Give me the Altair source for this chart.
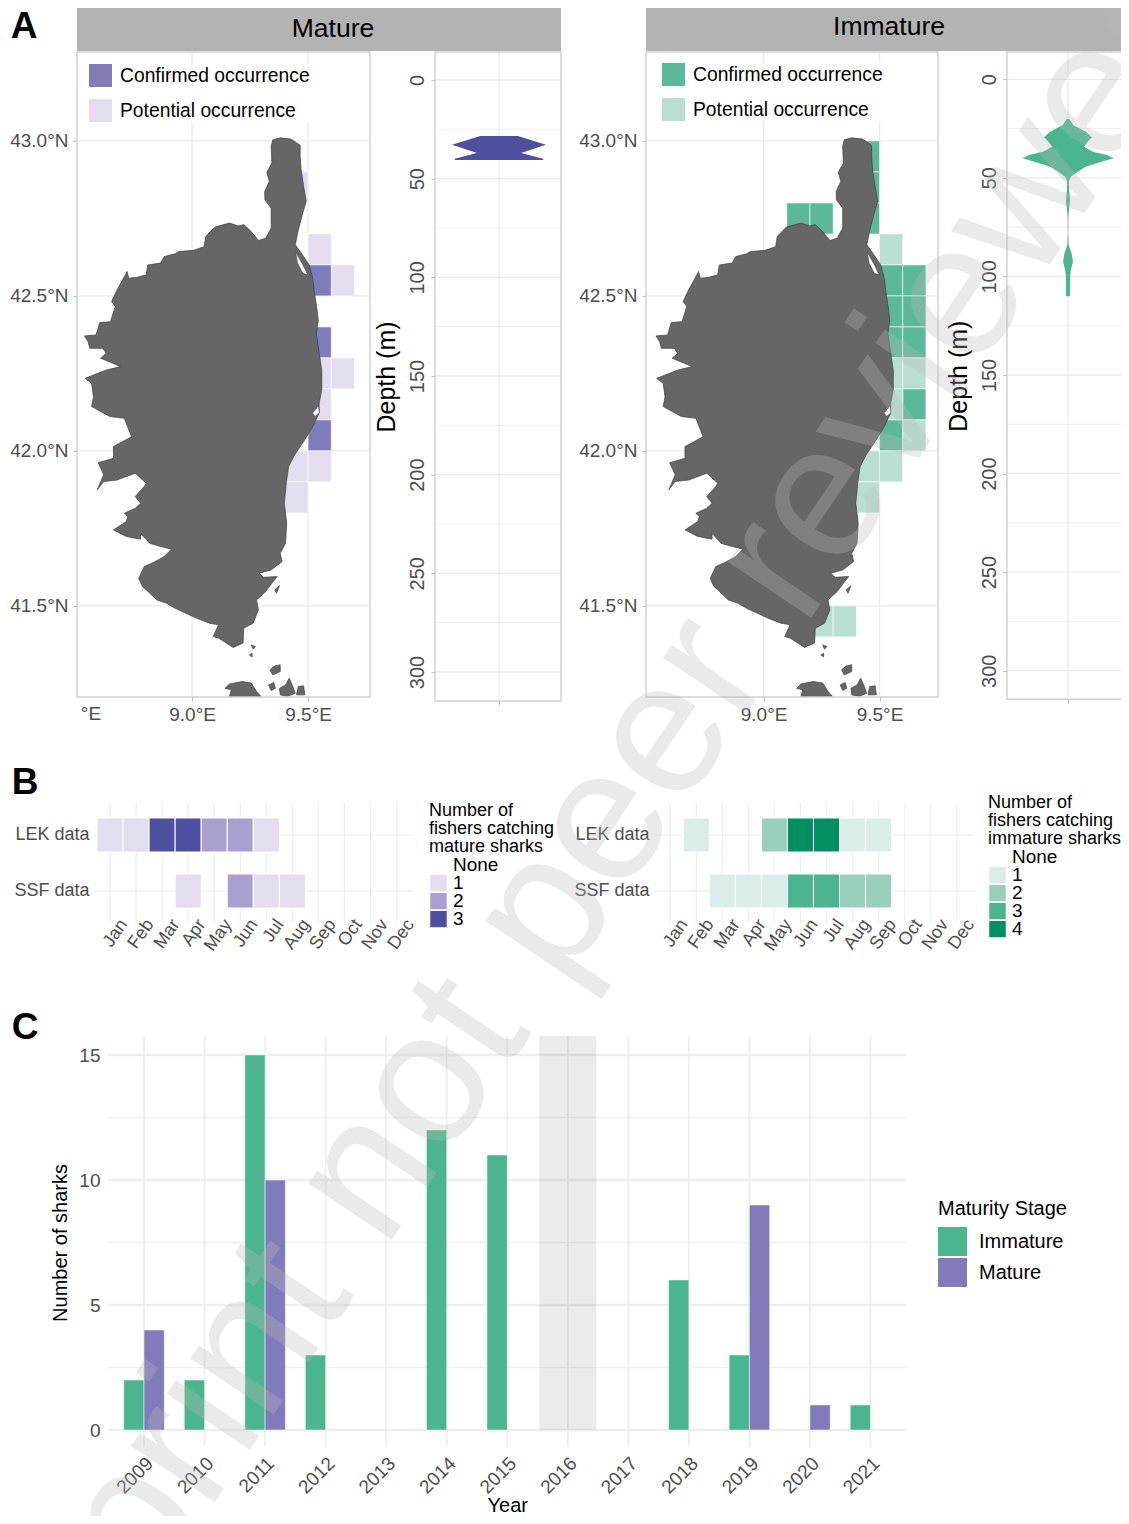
import altair as alt
import pandas as pd

FONT = "Liberation Sans"
W, H = 1113, 1508

# ---------- island outlines (lon, lat) ----------
corsica = [(9.348,43.004),(9.380,43.010),(9.427,43.006),(9.466,42.986),(9.466,42.950),(9.470,42.907),(9.481,42.853),(9.492,42.805),
 (9.477,42.767),(9.458,42.713),(9.445,42.665),(9.472,42.637),(9.505,42.600),(9.520,42.557),(9.528,42.509),(9.539,42.455),(9.544,42.422),
 (9.536,42.379),(9.548,42.315),(9.559,42.261),(9.559,42.197),(9.548,42.154),(9.548,42.122),(9.520,42.078),(9.481,42.030),(9.442,41.987),
 (9.416,41.949),(9.406,41.896),(9.398,41.831),(9.408,41.767),(9.403,41.702),(9.380,41.670),(9.388,41.643),(9.341,41.616),(9.289,41.605),
 (9.309,41.592),(9.367,41.595),(9.317,41.546),(9.278,41.519),(9.286,41.487),(9.263,41.444),(9.223,41.428),(9.220,41.380),(9.177,41.366),
 (9.114,41.396),(9.091,41.401),(9.114,41.439),(9.075,41.444),(9.020,41.460),(8.927,41.492),(8.888,41.509),(8.848,41.519),(8.802,41.552),
 (8.786,41.562),(8.770,41.589),(8.794,41.627),(8.833,41.640),(8.880,41.659),(8.911,41.683),(8.848,41.695),(8.817,41.702),(8.778,41.734),
 (8.778,41.715),(8.716,41.724),(8.661,41.745),(8.716,41.772),(8.723,41.788),(8.708,41.799),(8.755,41.815),(8.778,41.831),(8.755,41.853),
 (8.794,41.885),(8.802,41.896),(8.755,41.928),(8.677,41.906),(8.619,41.901),(8.591,41.874),(8.619,41.923),(8.595,41.962),(8.661,41.976),
 (8.661,42.014),(8.739,42.046),(8.708,42.105),(8.645,42.111),(8.567,42.143),(8.575,42.175),(8.567,42.218),(8.539,42.234),(8.630,42.261),
 (8.692,42.272),(8.606,42.299),(8.630,42.315),(8.614,42.331),(8.559,42.331),(8.552,42.352),(8.536,42.371),(8.586,42.374),(8.602,42.414),
 (8.648,42.417),(8.669,42.466),(8.653,42.482),(8.673,42.514),(8.720,42.579),(8.727,42.557),(8.763,42.560),(8.802,42.568),(8.809,42.600),
 (8.864,42.606),(8.880,42.627),(8.927,42.636),(8.942,42.643),(9.005,42.647),(9.052,42.659),(9.059,42.692),(9.098,42.722),(9.161,42.735),
 (9.200,42.726),(9.223,42.730),(9.255,42.708),(9.286,42.679),(9.317,42.686),(9.341,42.719),(9.341,42.783),(9.314,42.810),(9.313,42.837),
 (9.333,42.870),(9.322,42.899),(9.344,42.929),(9.341,42.983)]
corsica_lon = [p[0] for p in corsica]
corsica_lat = [p[1] for p in corsica]
islets = {
 "a": ([9.161,9.169,9.142,9.161,9.216,9.255,9.278,9.297],[41.207,41.229,41.234,41.248,41.256,41.251,41.224,41.208]),
 "b": ([9.380,9.377,9.403,9.419,9.434,9.445,9.411],[41.213,41.234,41.245,41.267,41.240,41.218,41.208]),
 "c": ([9.450,9.458,9.481,9.486],[41.213,41.240,41.242,41.213]),
 "d": ([9.336,9.356,9.380,9.380,9.348],[41.294,41.306,41.310,41.288,41.277]),
 "e": ([9.330,9.352,9.359,9.341],[41.245,41.253,41.234,41.227]),
 "f": ([9.255,9.273,9.263],[41.374,41.369,41.360]),
 "g": ([9.247,9.259,9.259],[41.342,41.347,41.335]),
 "h": ([9.356,9.377,9.364],[41.552,41.565,41.541]),
}
lagoon_lon = [9.447,9.474,9.498,9.478,9.456]
lagoon_lat = [42.640,42.605,42.568,42.573,42.605]
lagoon2_lon = [9.520,9.545,9.548,9.530]
lagoon2_lat = [42.122,42.145,42.122,42.112]

# ---------- occurrence tiles (lower-left corner) ----------
C, P = "Confirmed occurrence", "Potential occurrence"
mature_lon = [9.4,9.5,9.6,9.5,9.5,9.5,9.6,9.5,9.5,9.4,9.5,9.4]
mature_lat = [42.8,42.6,42.5,42.5,42.3,42.2,42.2,42.1,42.0,41.9,41.9,41.8]
mature_kind = [P,P,P,C,C,P,P,P,C,P,P,P]
immature_lon = [9.4,9.4,9.4,9.1,9.2,9.5,9.5,9.6,9.5,9.6,9.5,9.6,9.5,9.6,9.6,9.5,9.5,9.6,9.4,9.5,9.4,9.2,9.3]
immature_lat = [42.9,42.8,42.7,42.7,42.7,42.6,42.5,42.5,42.4,42.4,42.3,42.3,42.2,42.2,42.1,42.1,42.0,42.0,41.9,41.9,41.8,41.4,41.4]
immature_kind = [C,C,C,C,C,P,C,C,C,C,C,C,P,P,C,P,C,P,P,P,P,P,P]

# ---------- depth violins ----------
mature_depth = [28.4,32.8,37.0,39.9,40.5]
mature_dens = [0.40,1.0,0.47,0.94,0.94]
immature_depth = [20.1,23.2,26.6,29.4,31.6,34.2,36.7,38.4,40.1,42.1,44.3,46.9,49.4,51.9,56.2,61.3,65.5,69.7,78.2,84.1,88.3,92.6,96.8,100.2,110]
immature_dens = [0.03,0.11,0.38,0.51,0.42,0.34,0.53,0.83,0.97,0.68,0.38,0.21,0.06,0.02,0.023,0.045,0.023,0.008,0.004,0.015,0.076,0.106,0.06,0.045,0.045]

# ---------- fishers by month ----------
months = ["Jan","Feb","Mar","Apr","May","Jun","Jul","Aug","Sep","Oct","Nov","Dec"]
rows = ["LEK data","SSF data"]
fm_row = ["LEK data"]*7 + ["SSF data"]*4
fm_month = ["Jan","Feb","Mar","Apr","May","Jun","Jul","Apr","Jun","Jul","Aug"]
fm_n = ["1","1","3","3","2","2","1","1","2","1","1"]
fi_row = ["LEK data"]*6 + ["SSF data"]*7
fi_month = ["Feb","May","Jun","Jul","Aug","Sep","Mar","Apr","May","Jun","Jul","Aug","Sep"]
fi_n = ["1","2","4","4","1","1","1","1","1","3","3","2","2"]

# ---------- sharks per year ----------
years = list(range(2009, 2022))
imm_year = [2009,2010,2011,2012,2014,2015,2018,2019,2021]
imm_n = [2,2,15,3,12,11,6,3,1]
mat_year = [2009,2011,2019,2020]
mat_n = [4,10,9,1]

# ---------- colours ----------
PURPLE_DARK, PURPLE, PURPLE_MID, PURPLE_LIGHT = "#4f4f9f", "#827bba", "#a9a0cf", "#e2deef"
GREEN_DARK, GREEN, GREEN_MID, GREEN_LIGHT = "#008f60", "#4ab58e", "#98d0bc", "#daede8"
GRID, BORDER = "#ebebeb", "#cfcfcf"
DX, DY = 8, 8


def sc(dom, rng, **kw):
    return alt.Scale(domain=dom, range=[r - DY for r in rng], nice=False, zero=False, **kw)


def band(dom, rng, **kw):
    return alt.Scale(domain=dom, range=[r - DY for r in rng], **kw)


def bottom(y, **kw):
    return alt.Axis(orient="bottom", offset=y - DY - H, grid=False, **kw)


def left(x, **kw):
    return alt.Axis(orient="left", offset=-(x - DX), grid=False, **kw)


def vrules(vals, xs, y0, y1, color=GRID, w=1.3, axis=None, typ="Q"):
    return alt.Chart(pd.DataFrame({"v": vals})).mark_rule(color=color, strokeWidth=w).encode(
        x=alt.X(f"v:{typ}", scale=xs, axis=axis, title=None),
        y=alt.value(y0 - DY), y2=alt.value(y1 - DY))


def hrules(vals, ys, x0, x1, color=GRID, w=1.3, axis=None, title=None, typ="Q"):
    return alt.Chart(pd.DataFrame({"v": vals})).mark_rule(color=color, strokeWidth=w).encode(
        y=alt.Y(f"v:{typ}", scale=ys, axis=axis, title=title),
        x=alt.value(x0 - DX), x2=alt.value(x1 - DX))


def box(x0, x1, y0, y1, fill=None, stroke=None, sw=1.4):
    kw = {"fill": fill} if fill else {"fillOpacity": 0}
    if stroke:
        kw.update(stroke=stroke, strokeWidth=sw)
    return alt.Chart(pd.DataFrame({"a": [0]})).mark_rect(**kw).encode(
        x=alt.value(x0 - DX), x2=alt.value(x1 - DX), y=alt.value(y0 - DY), y2=alt.value(y1 - DY))


def label(t, x, y, size, color="black", weight="normal", align="center"):
    return alt.Chart(pd.DataFrame({"t": [t]})).mark_text(
        fontSize=size, color=color, fontWeight=weight, align=align, baseline="middle", font=FONT
    ).encode(text="t:N", x=alt.value(x - DX), y=alt.value(y - DY))


land_rows = [{"poly": "main", "i": i, "lon": a, "lat": b} for i, (a, b) in enumerate(zip(corsica_lon, corsica_lat))]
for name, (lo, la) in islets.items():
    land_rows += [{"poly": name, "i": i, "lon": a, "lat": b} for i, (a, b) in enumerate(zip(lo, la))]
land = pd.DataFrame(land_rows)
lagoons = pd.DataFrame(
    [{"poly": "b", "i": i, "lon": a, "lat": b} for i, (a, b) in enumerate(zip(lagoon_lon, lagoon_lat))]
    + [{"poly": "d", "i": i, "lon": a, "lat": b} for i, (a, b) in enumerate(zip(lagoon2_lon, lagoon2_lat))])


def xsc(dom, rng):
    return alt.Scale(domain=dom, range=[r - DX for r in rng], nice=False, zero=False)


def map_panel(x0, x1, lon0, lon1, lo, la, kind, colors, legx, legy):
    xs = xsc([lon0, lon1], [x0, x1])
    ys = sc([41.206, 43.287], [697, 52])
    tiles = pd.DataFrame({"lon": lo, "lat": la, "kind": kind})
    tiles["lon2"] = tiles["lon"] + 0.1
    tiles["lat2"] = tiles["lat"] + 0.1
    out = [
        vrules([9.0, 9.5], xs, 52, 697, axis=bottom(697, values=[9.0, 9.5], labelExpr="format(datum.value,'.1f')+'°E'",
               labelFontSize=19, labelPadding=4, tickSize=4, domain=False)),
        hrules([41.5, 42.0, 42.5, 43.0], ys, x0, x1,
               axis=left(x0, values=[41.5, 42.0, 42.5, 43.0], labelExpr="format(datum.value,'.1f')+'°N'",
                         labelFontSize=19, labelPadding=5, tickSize=4, domain=False)),
        alt.Chart(tiles).mark_rect(stroke="white", strokeWidth=0.6).encode(
            x=alt.X("lon:Q", scale=xs, axis=None), x2="lon2:Q",
            y=alt.Y("lat:Q", scale=ys, axis=None), y2="lat2:Q",
            color=alt.Color("kind:N", scale=alt.Scale(domain=[C, P], range=colors),
                            legend=alt.Legend(orient="none", legendX=legx - DX, legendY=legy - DY, title=None,
                                              symbolType="square", symbolSize=529, clipHeight=23, rowPadding=12,
                                              labelFontSize=19.3, labelOffset=8, labelColor="black",
                                              fillColor="white", symbolStrokeWidth=0, padding=0, labelLimit=300))),
        alt.Chart(land).mark_line(interpolate="linear-closed", fill="#666666", stroke="#404040", strokeWidth=0.7).encode(
            x=alt.X("lon:Q", scale=xs, axis=None), y=alt.Y("lat:Q", scale=ys, axis=None),
            detail="poly:N", order="i:Q"),
        alt.Chart(lagoons).mark_line(interpolate="linear-closed", fill="white", stroke="#404040", strokeWidth=0.4).encode(
            x=alt.X("lon:Q", scale=xs, axis=None), y=alt.Y("lat:Q", scale=ys, axis=None),
            detail="poly:N", order="i:Q"),
        box(x0, x1, 52, 697, stroke=BORDER),
    ]
    return out


def violin_panel(x0, x1, xc, y_0, y_300, bottom_y, depth, dens, color, unit=47):
    xs = xsc([(x0 - xc) / unit, (x1 - xc) / unit], [x0, x1])
    k = (y_300 - y_0) / 300
    ys = sc([(52 - y_0) / k, (bottom_y - y_0) / k], [52, bottom_y])
    df = pd.DataFrame({"d": depth, "w": dens})
    df["neg"] = -df["w"]
    ticks = [0, 50, 100, 150, 200, 250, 300]
    return [
        hrules([25, 75, 125, 175, 225, 275], ys, x0, x1, w=0.8),
        hrules(ticks, ys, x0, x1, axis=left(x0, values=ticks, labelAngle=-90, labelAlign="center", labelBaseline="bottom",
                                             labelFontSize=20, labelPadding=4, tickSize=4, domain=False, titleFontSize=25,
                                             titlePadding=8), title="Depth (m)"),
        vrules([0], xs, 52, bottom_y, axis=bottom(bottom_y, values=[0], labels=False, tickSize=4, domain=False)),
        alt.Chart(df).mark_area(orient="horizontal", color=color, opacity=1).encode(
            y=alt.Y("d:Q", scale=ys, axis=None), x=alt.X("neg:Q", scale=xs, axis=None), x2="w:Q"),
        box(x0, x1, 52, bottom_y, stroke=BORDER),
    ]


def heat_panel(jan_x, x0, x1, rw, mo, n, dom, colors, legx, legy, legend_title):
    step = 26.05
    xs = alt.Scale(domain=months, range=[jan_x - step / 2 - DX, jan_x + 11.5 * step - DX], paddingInner=0, paddingOuter=0)
    ys = band(rows, [807, 919], paddingInner=0.393, paddingOuter=0.196)
    df = pd.DataFrame({"row": rw, "month": mo, "n": n})
    return [
        vrules(months, xs, 802, 923, color="#f0f0f0", typ="N",
               axis=bottom(918, labelAngle=-55, labelAlign="right", labelBaseline="middle", labelFontSize=18,
                           labelPadding=3, labelOffset=14, ticks=False, domain=False, labelOverlap=False)),
        hrules(rows, ys, x0, x1, color="#f0f0f0", typ="N",
               axis=left(x0, labelFontSize=18, labelPadding=6, ticks=False, domain=False)),
        alt.Chart(df).mark_rect(stroke="white", strokeWidth=1).encode(
            x=alt.X("month:N", scale=xs, axis=None), y=alt.Y("row:N", scale=ys, axis=None),
            color=alt.Color("n:N", scale=alt.Scale(domain=dom, range=colors),
                            legend=alt.Legend(orient="none", legendX=legx - DX, legendY=legy - DY, title=legend_title,
                                              titleFontSize=18, titleLineHeight=18, titleFontWeight="normal",
                                              titleColor="black", titlePadding=1, titleLimit=200,
                                              symbolType="square", symbolSize=272, clipHeight=16, rowPadding=-3,
                                              labelFontSize=19, labelOffset=5, labelColor="black",
                                              symbolStrokeWidth=0, padding=0))),
    ]


# --- panel C ---
bars = pd.DataFrame({"year": imm_year + mat_year, "n": imm_n + mat_n,
                     "stage": ["Immature"] * len(imm_year) + ["Mature"] * len(mat_year)})
c_x = alt.Scale(domain=years, range=[113.75 - DX, 900.75 - DX], paddingInner=0.33, paddingOuter=0.165)
c_xq = xsc([2009, 2021], [144, 870.5])
c_y = sc([0, 15], [1430, 1055])
panel_c = [
    hrules([2.5, 7.5, 12.5], c_y, 108, 906, color="#f0f0f0", w=1.5),
    vrules(years, c_x, 1036, 1447, color="#eeeeee", w=1.8, typ="O",
           axis=bottom(1447, labelAngle=-45, labelAlign="right", labelBaseline="middle", labelFontSize=19, labelPadding=13,
                       labelOffset=6, ticks=False, domain=False, title="Year", titleFontSize=20, titlePadding=-1,
                       labelOverlap=False)),
    hrules([0, 5, 10, 15], c_y, 108, 906, color="#eeeeee", w=2.5, title="Number of sharks",
           axis=left(108, values=[0, 5, 10, 15], labelFontSize=19, labelPadding=8, ticks=False, domain=False,
                     titleFontSize=20, titlePadding=8)),
    alt.Chart(pd.DataFrame({"a": [2015.53], "b": [2016.47]})).mark_rect(color="#000000", opacity=0.08).encode(
        x=alt.X("a:Q", scale=c_xq, axis=None), x2="b:Q", y=alt.value(1036 - DY), y2=alt.value(1430 - DY)),
    alt.Chart(bars).mark_bar(stroke="white", strokeWidth=0.5).encode(
        x=alt.X("year:O", scale=c_x, axis=None),
        xOffset=alt.XOffset("stage:N", scale=alt.Scale(domain=["Immature", "Mature"], paddingInner=0, paddingOuter=0)),
        y=alt.Y("n:Q", scale=c_y, axis=None),
        color=alt.Color("stage:N", scale=alt.Scale(domain=["Immature", "Mature"], range=[GREEN, PURPLE]),
                        legend=alt.Legend(orient="none", legendX=938 - DX, legendY=1199 - DY, title="Maturity Stage",
                                          titleFontSize=20, titleFontWeight="normal", titleColor="black", titlePadding=8,
                                          symbolType="square", symbolSize=841, clipHeight=29, rowPadding=2,
                                          labelFontSize=20, labelOffset=12, labelColor="black",
                                          symbolStrokeWidth=0, padding=0))),
]

layers = []
layers += map_panel(77, 370, 8.504, 9.767, mature_lon, mature_lat, mature_kind, [PURPLE, PURPLE_LIGHT], 89, 64)
layers += map_panel(646, 938, 8.493, 9.752, immature_lon, immature_lat, immature_kind, ["#5bb99a", "#b8dfd2"], 662, 63)
layers += [box(77, 561, 8, 51, fill="#b3b3b3"), box(646, 1129, 8, 51, fill="#b3b3b3"),
           label("Mature", 333, 29, 26.5), label("Immature", 889, 27, 26.5),
           label("°E", 91, 714, 19, color="#4d4d4d")]
layers += violin_panel(435, 561, 499, 80, 672, 701, mature_depth, mature_dens, PURPLE_DARK)
layers += violin_panel(1007, 1129, 1068, 79.3, 670.7, 699.3, immature_depth, immature_dens, GREEN)
layers += heat_panel(110, 95, 412, fm_row, fm_month, fm_n, ["None", "1", "2", "3"],
                     ["transparent", PURPLE_LIGHT, PURPLE_MID, PURPLE_DARK], 429, 802,
                     ["Number of", "fishers catching", "mature sharks"])
layers += heat_panel(670.2, 655, 973, fi_row, fi_month, fi_n, ["None", "1", "2", "3", "4"],
                     ["transparent", GREEN_LIGHT, GREEN_MID, GREEN, GREEN_DARK], 988, 794,
                     ["Number of", "fishers catching", "immature sharks"])
layers += panel_c
layers += [label("A", 24, 27, 37, weight="bold"), label("B", 25, 783, 37, weight="bold"), label("C", 25, 1028, 37, weight="bold")]
# preprint watermark across the page
layers.append(
    alt.Chart(pd.DataFrame({"t": ["Preprint not peer reviewed"]})).mark_text(
        fontSize=190, angle=304, align="center", baseline="alphabetic", color="#bcbcbc", opacity=0.3, font=FONT
    ).encode(text="t:N", x=alt.value(606 - DX), y=alt.value(922 - DY)))

chart = (
    alt.layer(*layers)
    .resolve_scale(x="independent", y="independent", color="independent")
    .properties(width=W, height=H, padding=0, autosize=alt.AutoSizeParams(type="none"), background="white")
    .configure_view(stroke=None)
    .configure_axis(labelFont=FONT, titleFont=FONT, labelColor="#4d4d4d", titleColor="black", titleFontWeight="normal",
                    tickColor="#bdbdbd", labelFlush=False)
    .configure_legend(labelFont=FONT, titleFont=FONT)
)
chart.save("out.html", embed_options={"renderer": "svg", "actions": False})
